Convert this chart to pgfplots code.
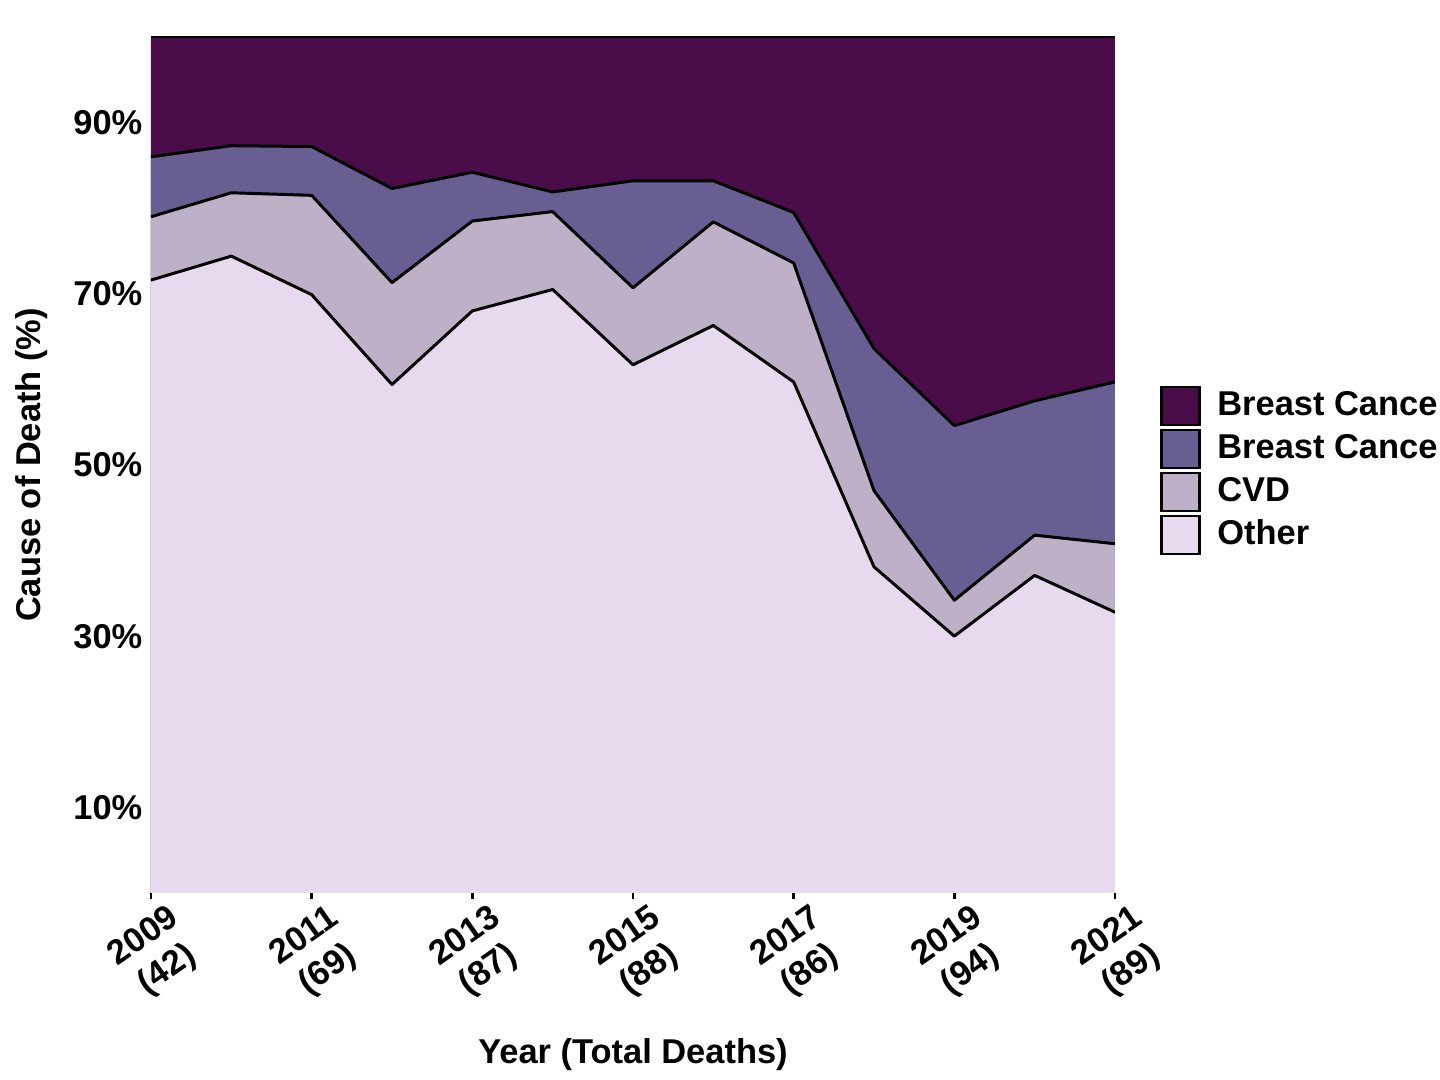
\documentclass[border=0pt]{standalone}
\usepackage{fontspec}
\setmainfont{Liberation Sans}
\usepackage{pgfplots}
\pgfplotsset{compat=1.18}
\usepackage{pgfplotstable}
\definecolor{cTop}{HTML}{4B0D49}
\definecolor{cBC}{HTML}{685E92}
\definecolor{cCVD}{HTML}{BEB0C6}
\definecolor{cOther}{HTML}{E8DAEE}
\newcommand\f{\bfseries\fontsize{9.8}{11.5}\selectfont}
\pgfplotstableread{
year other cvd bc top
2009 71.6 79.0 86.0 100
2010 74.4 81.8 87.3 100
2011 69.9 81.5 87.2 100
2012 59.4 71.3 82.3 100
2013 68.0 78.5 84.2 100
2014 70.5 79.6 81.9 100
2015 61.7 70.7 83.2 100
2016 66.3 78.4 83.2 100
2017 59.7 73.6 79.5 100
2018 38.1 47.0 63.6 100
2019 30.0 34.2 54.6 100
2020 37.1 41.8 57.5 100
2021 32.8 40.8 59.7 100
}\data
\begin{document}
\begin{tikzpicture}
\begin{axis}[
 at={(0,0)}, anchor=south west,
 scale only axis, width=96.4mm, height=85.6mm,
 xmin=2009, xmax=2021, ymin=0, ymax=100,
 axis line style={draw=none},
 xtick={2009,2011,2013,2015,2017,2019,2021},
 xticklabels={{2009\\(42)},{2011\\(69)},{2013\\(87)},{2015\\(88)},{2017\\(86)},{2019\\(94)},{2021\\(89)}},
 ytick={10,30,50,70,90},
 yticklabels={10\%,30\%,50\%,70\%,90\%},
 xtick pos=lower, ytick pos=left,
 tick align=outside,
 xtick style={black, line width=0.7pt},
 ytick style={draw=none},
 major tick length=0.6mm,
 ticklabel style={font=\f},
 yticklabel style={inner sep=0pt, xshift=-0.2mm},
 xticklabel style={inner sep=0pt, xshift=0.5mm, yshift=-5.5mm, rotate=35, align=center, anchor=center},
 xlabel={Year (Total Deaths)}, ylabel={Cause of Death (\%)},
 every axis x label/.style={at={(axis description cs:0.5,0)}, yshift=-16.2mm, anchor=center, font=\f},
 every axis y label/.style={at={(axis description cs:0,0.5)}, xshift=-11.9mm, rotate=90, anchor=center, font=\f},
 legend style={at={(axis description cs:1.0467,0.594)}, anchor=north west, draw=none, fill=none, inner sep=0pt, outer sep=0pt, row sep=0pt, nodes={inner sep=0pt, minimum height=4.3mm, font=\f}},
 legend cell align=left,
 legend image code/.code={\draw[#1,draw=black,line width=0.75pt] (0mm,-1.9mm) rectangle (3.8mm,1.9mm); \path (5.6mm,0);},
]
\addplot[fill=cTop, draw=none] table[x=year,y=top]{\data} \closedcycle;
\addlegendentry{Breast Cance}
\addplot[fill=cBC, draw=none] table[x=year,y=bc]{\data} \closedcycle;
\addlegendentry{Breast Cance}
\addplot[fill=cCVD, draw=none] table[x=year,y=cvd]{\data} \closedcycle;
\addlegendentry{CVD}
\addplot[fill=cOther, draw=none] table[x=year,y=other]{\data} \closedcycle;
\addlegendentry{Other}
\addplot[black, line width=0.8pt, forget plot] table[x=year,y=top]{\data};
\addplot[black, line width=0.85pt, line join=round, forget plot] table[x=year,y=bc]{\data};
\addplot[black, line width=0.85pt, line join=round, forget plot] table[x=year,y=cvd]{\data};
\addplot[black, line width=0.85pt, line join=round, forget plot] table[x=year,y=other]{\data};
\end{axis}
\pgfresetboundingbox
\path[use as bounding box] (-15.1mm,-18.7mm) rectangle (128.9mm,89.3mm);
\end{tikzpicture}
\end{document}
